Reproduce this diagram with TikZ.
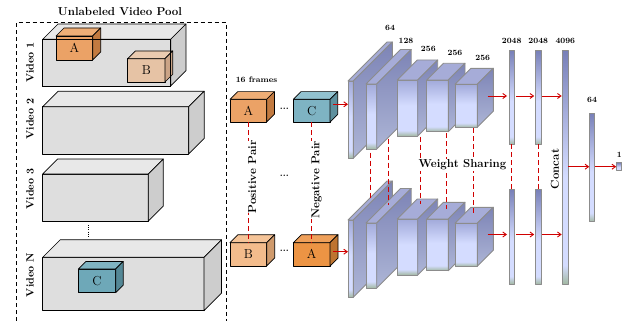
\documentclass[tikz,border=0pt]{standalone}
\usetikzlibrary{calc,arrows.meta}
\definecolor{redc}{HTML}{D00000}
\definecolor{vF}{HTML}{DEDEDE}
\definecolor{vT}{HTML}{E8E8E8}
\definecolor{vS}{HTML}{CDCDCD}
\definecolor{oAF}{HTML}{EBA266}
\definecolor{oAT}{HTML}{EFAE76}
\definecolor{oAS}{HTML}{C27A40}
\definecolor{vBF}{HTML}{E6C3A5}
\definecolor{vBT}{HTML}{EACBB0}
\definecolor{vBS}{HTML}{CBA486}
\definecolor{pBF}{HTML}{F3BC8C}
\definecolor{pBT}{HTML}{F5C498}
\definecolor{pBS}{HTML}{CF9A6C}
\definecolor{dAF}{HTML}{EC9444}
\definecolor{dAT}{HTML}{EFA05A}
\definecolor{dAS}{HTML}{BE7430}
\definecolor{cCF}{HTML}{7EB3C3}
\definecolor{cCT}{HTML}{92C2D0}
\definecolor{cCS}{HTML}{5E909E}
\definecolor{vCF}{HTML}{6EA8B8}
\definecolor{vCT}{HTML}{80B4C2}
\definecolor{vCS}{HTML}{548896}
\definecolor{lfTop}{HTML}{A2AADA}
\definecolor{lfMid}{HTML}{D4DCFF}
\definecolor{lfBot}{HTML}{A2B8A2}
\definecolor{lsTop}{HTML}{7D84B6}
\definecolor{lsBot}{HTML}{ADB5D6}
\definecolor{ltop}{HTML}{A6ACD8}
\definecolor{lgray}{HTML}{8C8C8C}
\definecolor{fcTop}{HTML}{7880B8}
\pgfdeclareverticalshading{layfront}{100bp}{color(0bp)=(lfBot); color(25bp)=(lfBot); color(30bp)=(lfMid); color(52bp)=(lfMid); color(75bp)=(lfTop); color(100bp)=(lfTop)}
\pgfdeclareverticalshading{fcshade}{100bp}{color(0bp)=(lfBot); color(25bp)=(lfBot); color(29bp)=(lfMid); color(48bp)=(lfMid); color(75bp)=(fcTop); color(100bp)=(fcTop)}
\tikzset{
  every node/.style={inner sep=0pt,outer sep=0pt},
  edgeb/.style={draw=black,line width=0.7pt,line join=round},
  cubefront/.style={edgeb,rectangle,font=\fontsize{13}{13}\selectfont},
  layeredge/.style={draw=lgray,line width=0.9pt,line join=round},
  layerfront/.style={layeredge,rectangle,shade,shading=layfront},
  layerside/.style={layeredge,top color=lsTop,bottom color=lsBot},
  fcbar/.style={layeredge,rectangle,shade,shading=fcshade},
  biglbl/.style={font=\bfseries\fontsize{11.5}{12}\selectfont},
  vlbl/.style={font=\bfseries\fontsize{10.5}{11}\selectfont,rotate=90},
  smalllbl/.style={font=\bfseries\fontsize{8}{9}\selectfont},
  dotslbl/.style={font=\bfseries\fontsize{9}{9}\selectfont},
  redarrow/.style={draw=redc,line width=0.9pt,-{Straight Barb[length=3.5pt,width=5pt]}},
  reddash/.style={draw=redc,line width=1pt,dash pattern=on 5pt off 3pt},
}
% cube: name, xl, yt, xr, yb, depth, colour prefix, label
\newcommand\mycube[8]{%
  \node[cubefront,fill=#7F,minimum width={#4-#2},minimum height={#5-#3}] (#1) at ({(#2+#4)/2},{(#3+#5)/2}) {#8};
  \filldraw[edgeb,fill=#7T] (#1.north west) -- ++(#6,-#6) -- ($(#1.north east)+(#6,-#6)$) -- (#1.north east) -- cycle;
  \filldraw[edgeb,fill=#7S] (#1.north east) -- ++(#6,-#6) -- ($(#1.south east)+(#6,-#6)$) -- (#1.south east) -- cycle;
}
% layer: name, xl, yt, xr, yb, depth
\newcommand\mylayer[6]{%
  \node[layerfront,minimum width={#4-#2},minimum height={#5-#3}] (#1) at ({(#2+#4)/2},{(#3+#5)/2}) {};
  \filldraw[layeredge,fill=ltop] (#1.north west) -- ++(#6,-#6) -- ($(#1.north east)+(#6,-#6)$) -- (#1.north east) -- cycle;
  \path[layerside] (#1.north east) -- ++(#6,-#6) -- ($(#1.south east)+(#6,-#6)$) -- (#1.south east) -- cycle;
}
\newcommand\mybar[5]{%
  \node[fcbar,minimum width={#4-#2},minimum height={#5-#3}] (#1) at ({(#2+#4)/2},{(#3+#5)/2}) {};
}
\begin{document}
\begin{tikzpicture}[x=1pt,y=-1pt]
\useasboundingbox (0,0) rectangle (626,321);

% ---------- video pool ----------
\node[biglbl] (pooltitle) at (120,12) {Unlabeled Video Pool};
\draw[line width=0.7pt,dash pattern=on 4pt off 3pt] (16,321) -- (16,22.7) -- (226.5,22.7) -- (226.5,321);

\mycube{v1}{42.7}{39.3}{170.7}{86}{15.3}{v}{}
\mycube{vA}{56}{36}{92.7}{60}{8}{oA}{A}
\mycube{vB}{127.7}{58.7}{165}{82}{7.7}{vB}{B}
\draw[edgeb] (v1.south west) rectangle (v1.north east);

\mycube{v2}{42.7}{106.7}{188.7}{154}{15.5}{v}{}
\mycube{v3}{42.7}{174}{148.3}{221}{15}{v}{}
\mycube{vN}{42.7}{257.3}{204}{310.7}{17.5}{v}{}
\mycube{vC}{78.3}{269}{115.7}{292.7}{7.5}{vC}{C}

\coordinate (vd1) at (88,225);
\coordinate (vd2) at (88,237);
\draw[line width=0.8pt,dash pattern=on 0.8pt off 1.4pt] (vd1) -- (vd2);

\node[vlbl] (lv1) at (30,62.5) {Video 1};
\node[vlbl] (lv2) at (30,119) {Video 2};
\node[vlbl] (lv3) at (30,189) {Video 3};
\node[vlbl] (lvN) at (30,275) {Video N};

% ---------- pairs ----------
\node[smalllbl] (frames) at (256.5,79.3) {16 frames};
\mycube{pA}{230}{99.3}{266.7}{122}{7.7}{oA}{A}
\mycube{pC}{293.3}{99.3}{330}{122}{7.7}{cC}{C}
\mycube{pB}{230}{242.7}{266.7}{266}{8}{pB}{B}
\mycube{pA2}{293.3}{242.7}{330}{266}{8}{dA}{A}
\node[dotslbl] (dots1) at (284.3,108.5) {...};
\node[dotslbl] (dots2) at (284.3,175.5) {...};
\node[dotslbl] (dots3) at (284.3,251) {...};

\draw[reddash] (pA.south) -- (pB.north);
\draw[reddash] (pC.south) -- (pA2.north);
\node[biglbl,rotate=90,fill=white,inner ysep=1pt] (pos) at (252.3,177) {Positive Pair};
\node[biglbl,rotate=90,fill=white,inner ysep=1pt] (neg) at (316.7,180) {Negative Pair};

% ---------- networks ----------
\mylayer{t1}{348}{81}{353.3}{158.3}{39}
\mylayer{t2}{366}{84}{376.7}{149}{34.5}
\mylayer{t3}{397.3}{80}{417.7}{136}{20}
\mylayer{t4}{426.7}{80}{448.3}{131.7}{16.7}
\mylayer{t5}{455}{84.3}{477.3}{127.3}{16}

\mylayer{b1}{348}{220}{353.3}{297.3}{39}
\mylayer{b2}{366}{223}{376.7}{288}{34.5}
\mylayer{b3}{397.3}{219}{417.7}{275}{20}
\mylayer{b4}{426.7}{219}{448.3}{270.7}{16.7}
\mylayer{b5}{455}{223.3}{477.3}{266.3}{16}

\node[smalllbl] (n64) at (390,28.3) {64};
\node[smalllbl] (n128) at (406,40.7) {128};
\node[smalllbl] (n256a) at (428.3,49.3) {256};
\node[smalllbl] (n256b) at (455,53.3) {256};
\node[smalllbl] (n256c) at (482.7,57.7) {256};

% weight sharing links
\coordinate (ws1t) at (370.7,152.5); \coordinate (ws1b) at (370.7,199.5);
\coordinate (ws2t) at (388.3,138.5); \coordinate (ws2b) at (388.3,204.5);
\coordinate (ws3t) at (420,136.5);   \coordinate (ws3b) at (420,203.5);
\coordinate (ws4t) at (446.7,133);   \coordinate (ws4b) at (446.7,209.3);
\coordinate (ws5t) at (473.3,128);   \coordinate (ws5b) at (473.3,213.3);
\foreach \i in {1,...,5} {\draw[reddash] (ws\i t) -- (ws\i b);}
\node[biglbl,fill=white,inner sep=1pt] (ws) at (462.5,165) {Weight Sharing};

% fc bars
\mybar{f1t}{509}{50.7}{514.3}{144.3}
\mybar{f2t}{535.7}{50.7}{541}{144.3}
\mybar{f1b}{509}{189.3}{514.3}{284}
\mybar{f2b}{535.7}{189.3}{541}{284}
\mybar{cat}{562.7}{50.7}{568}{284}
\mybar{f4}{589.3}{113.3}{594.7}{221.7}
\mybar{out}{616.7}{162.7}{621.7}{170.7}

\node[smalllbl] (n2048a) at (511.7,40.7) {2048};
\node[smalllbl] (n2048b) at (538.3,40.7) {2048};
\node[smalllbl] (n4096) at (565.3,40.7) {4096};
\node[smalllbl] (n64b) at (592,100) {64};
\node[smalllbl] (n1) at (619.3,155) {1};
\node[biglbl,rotate=90] (concat) at (555,169) {Concat};

\draw[reddash] (f1t.south) -- (f1b.north);
\draw[reddash] (f2t.south) -- (f2b.north);

% arrows
\coordinate (inT) at (333.3,104.3);
\coordinate (inB) at (333.3,251.7);
\draw[redarrow] (inT) -- (inT -| t1.west);
\draw[redarrow] (inB) -- (inB -| b1.west);
\coordinate (oT) at (487.7,96);
\coordinate (oB) at (487.7,234.5);
\draw[redarrow] (oT) -- ($(oT -| f1t.west)+(-2,0)$);
\draw[redarrow] (oB) -- ($(oB -| f1b.west)+(-2,0)$);
\draw[redarrow] ($(oT -| f1t.east)+(2,0)$) -- ($(oT -| f2t.west)+(-1.5,0)$);
\draw[redarrow] ($(oB -| f1b.east)+(2,0)$) -- ($(oB -| f2b.west)+(-1.5,0)$);
\draw[redarrow] ($(oT -| f2t.east)+(1,0)$) -- ($(oT -| cat.west)+(-1,0)$);
\draw[redarrow] ($(oB -| f2b.east)+(1,0)$) -- ($(oB -| cat.west)+(-1,0)$);
\coordinate (cT) at (568.3,166.7);
\draw[redarrow] (cT) -- (cT -| f4.west);
\draw[redarrow] ($(cT -| f4.east)+(0.5,0)$) -- ($(cT -| out.west)+(-0.5,0)$);
\end{tikzpicture}
\end{document}
